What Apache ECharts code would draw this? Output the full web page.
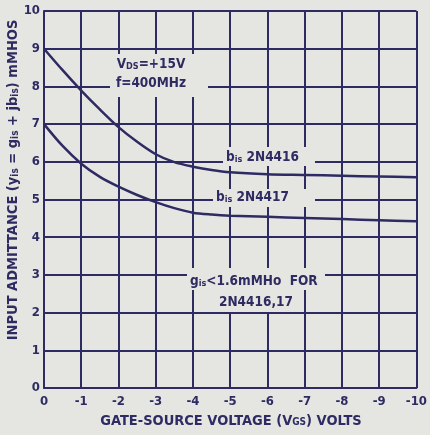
<!DOCTYPE html>
<html><head><meta charset="utf-8">
<script src="https://cdn.jsdelivr.net/npm/echarts@6/dist/echarts.min.js"></script>
<style>html,body{margin:0;padding:0;background:#e5e6e1;}#c{width:430px;height:435px;}</style>
</head><body><div id="c"></div>
<script>
const xTicks = [0,-1,-2,-3,-4,-5,-6,-7,-8,-9,-10];
const yTicks = [0,1,2,3,4,5,6,7,8,9,10];
const vgs      = [0,-0.5,-1,-1.5,-2,-2.5,-3,-3.5,-4,-4.5,-5,-6,-7,-8,-9,-10];
const bis4416  = [9,8.43,7.89,7.39,6.92,6.53,6.2,5.99,5.87,5.78,5.72,5.67,5.65,5.63,5.61,5.59];
const bis4417  = [7,6.42,5.95,5.6,5.34,5.12,4.93,4.77,4.65,4.6,4.57,4.54,4.51,4.48,4.45,4.42];

const INK = '#2e2b62';
const PAPER = '#e5e6e1';
const FONT = 'DejaVu Sans Condensed';
const chart = echarts.init(document.getElementById('c'));
const sub = {fontSize: 9, fontWeight:'bold', fontFamily: FONT, fill: INK, padding:[5,0,0,0]};
const base = {fontSize: 13.5, fontWeight:'bold', fontFamily: FONT, fill: INK};
const title = {fontSize: 14.5, fontWeight:'bold', fontFamily: FONT, fill: INK};

function pair(xs, ys){ return xs.map((x,i)=>[x, ys[i]]); }

chart.setOption({
  backgroundColor: PAPER,
  animation: false,
  grid: {left: 44, right: 10, top: 11, bottom: 47},
  xAxis: {
    type: 'value', min: -10, max: 0, interval: 1, inverse: true,
    axisLine: {show: true, onZero: false, lineStyle: {color: INK, width: 2}},
    axisTick: {show: false},
    splitLine: {show: true, lineStyle: {color: INK, width: 2}},
    axisLabel: {color: INK, fontWeight: 'bold', fontFamily: FONT, fontSize: 13, margin: 7,
      formatter: v => xTicks.includes(v) ? String(v) : ''}
  },
  yAxis: {
    type: 'value', min: 0, max: 10, interval: 1,
    axisLine: {show: true, lineStyle: {color: INK, width: 2}},
    axisTick: {show: false},
    splitLine: {show: true, lineStyle: {color: INK, width: 2}},
    axisLabel: {color: INK, fontWeight: 'bold', fontFamily: FONT, fontSize: 13, margin: 4,
      formatter: v => yTicks.includes(v) ? String(v) : ''}
  },
  series: [
    {type: 'line', data: pair(vgs, bis4416), smooth: 0.3, symbol: 'none',
     lineStyle: {color: INK, width: 2.5}, z: 3},
    {type: 'line', data: pair(vgs, bis4417), smooth: 0.3, symbol: 'none',
     lineStyle: {color: INK, width: 2.5}, z: 3}
  ],
  graphic: [
    {type:'rect', shape:{x:110,y:54,width:98,height:43}, style:{fill:PAPER}, z:10},
    {type:'text', x:151, y:64, z:11, style:{text:'V{s|DS}=+15V', align:'center', verticalAlign:'middle', ...base, rich:{s:sub}}},
    {type:'text', x:151, y:83, z:11, style:{text:'f=400MHz', align:'center', verticalAlign:'middle', ...base}},

    {type:'rect', shape:{x:223,y:147,width:92,height:19}, style:{fill:PAPER}, z:10},
    {type:'text', x:226, y:157, z:11, style:{text:'b{s|is} 2N4416', align:'left', verticalAlign:'middle', ...base, rich:{s:sub}}},

    {type:'rect', shape:{x:213,y:189,width:102,height:18}, style:{fill:PAPER}, z:10},
    {type:'text', x:216, y:197, z:11, style:{text:'b{s|is} 2N4417', align:'left', verticalAlign:'middle', ...base, rich:{s:sub}}},

    {type:'rect', shape:{x:187,y:268,width:138,height:22}, style:{fill:PAPER}, z:10},
    {type:'text', x:190, y:281, z:11, style:{text:'g{s|is}<1.6mMHo  FOR', align:'left', verticalAlign:'middle', ...base, rich:{s:sub}}},
    {type:'rect', shape:{x:213,y:290,width:88,height:22}, style:{fill:PAPER}, z:10},
    {type:'text', x:219, y:302, z:11, style:{text:'2N4416,17', align:'left', verticalAlign:'middle', ...base}},

    {type:'text', x:231, y:421, z:11, style:{text:'GATE-SOURCE VOLTAGE (V{s|GS}) VOLTS', align:'center', verticalAlign:'middle', ...title, rich:{s:{...sub, fontSize:10, padding:[3,0,0,0]}}}},
    {type:'text', x:13, y:180, rotation: Math.PI/2, z:11, style:{text:'INPUT ADMITTANCE (y{s|is} = g{s|is} + jb{s|is}) mMHOS', align:'center', verticalAlign:'middle', ...title, rich:{s:{...sub, fontSize:10}}}}
  ]
});
</script></body></html>
